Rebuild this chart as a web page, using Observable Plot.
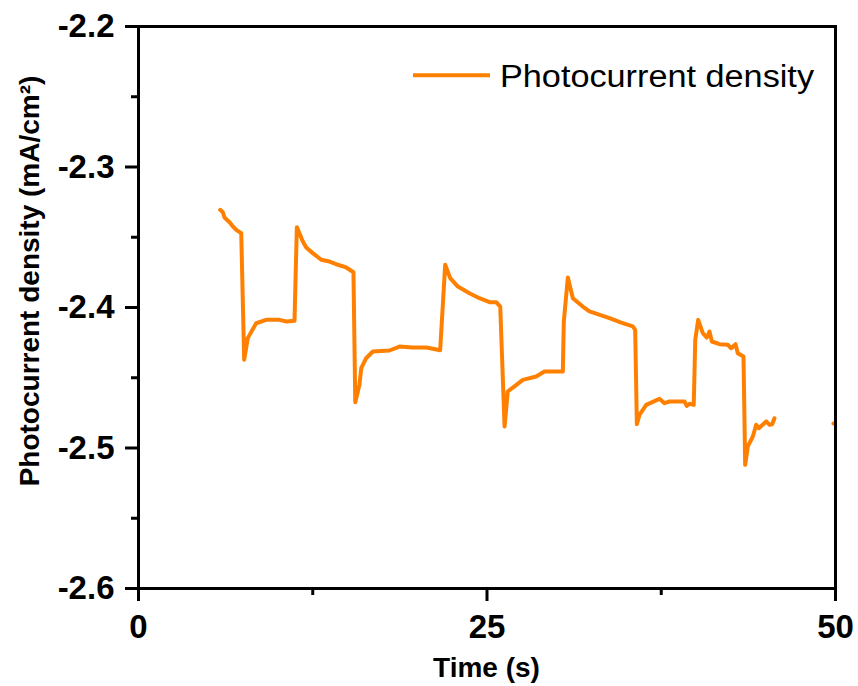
<!DOCTYPE html>
<html>
<head>
<meta charset="utf-8">
<script src="https://cdn.jsdelivr.net/npm/d3@7"></script>
<script src="https://cdn.jsdelivr.net/npm/@observablehq/plot@0.6"></script>
<style>
  html, body { margin: 0; padding: 0; background: #fff; }
  #chart svg { display: block; }
</style>
</head>
<body>
<div id="chart"></div>
<script>
const seriesName = "Photocurrent density";
const xLabel = "Time (s)";
const yLabel = "Photocurrent density (mA/cm²)";
const xMajorTicks = [0, 25, 50];
const xMinorTicks = [12.5, 37.5];
const yMajorTicks = [-2.6, -2.5, -2.4, -2.3, -2.2];
const yMinorTicks = [-2.55, -2.45, -2.35, -2.25];

const times = [5.86, 6.05, 6.17, 6.53, 6.77, 7.01, 7.37, 7.58, 7.84, 8.44, 9.16, 10.11, 10.62, 11.19,
  11.36, 11.79, 12.03, 12.50, 13.11, 13.70, 14.18, 14.90, 15.42,
  15.55, 15.85, 15.98, 16.33, 16.81, 18.01, 18.72, 19.66, 20.64, 21.11, 21.64,
  22.00, 22.36, 22.91, 23.74, 24.46, 25.18, 25.66, 25.95,
  26.26, 26.49, 26.97, 27.57, 28.53, 29.12, 30.44,
  30.51, 30.80, 31.16, 31.87, 32.35, 33.79, 34.63, 35.46, 35.63,
  35.75, 35.94, 36.42, 37.37, 37.73, 38.09, 39.17, 39.33, 39.53, 39.83,
  39.94, 40.15, 40.48, 40.77, 40.96, 41.13, 41.68, 42.27, 42.52, 42.83, 42.99, 43.40,
  43.52, 43.71, 44.07, 44.31, 44.50, 45.03, 45.27, 45.46, 45.62];
const values = [-2.3305, -2.3322, -2.3359, -2.3393, -2.3423, -2.3447, -2.3471, -2.4372, -2.4218, -2.4112, -2.4088, -2.4088, -2.4100, -2.4095,
  -2.3428, -2.3530, -2.3573, -2.3613, -2.3660, -2.3673, -2.3692, -2.3715, -2.3749,
  -2.4674, -2.4550, -2.4432, -2.4361, -2.4313, -2.4306, -2.4278, -2.4285, -2.4285, -2.4294, -2.4304,
  -2.3696, -2.3791, -2.3851, -2.3898, -2.3934, -2.3962, -2.3962, -2.3993,
  -2.4847, -2.4598, -2.4562, -2.4515, -2.4491, -2.4456, -2.4456,
  -2.4100, -2.3786, -2.3934, -2.3993, -2.4028, -2.4076, -2.4107, -2.4135, -2.4159,
  -2.4831, -2.4764, -2.4693, -2.4650, -2.4681, -2.4669, -2.4669, -2.4700, -2.4685, -2.4693,
  -2.4230, -2.4088, -2.4183, -2.4214, -2.4171, -2.4242, -2.4261, -2.4265, -2.4290, -2.4261, -2.4325, -2.4349,
  -2.5120, -2.4989, -2.4918, -2.4835, -2.4859, -2.4811, -2.4835, -2.4831, -2.4788];
// small clipped piece visible at the right edge
const edgeTimes = [49.85, 50.2];
const edgeValues = [-2.4825, -2.4825];

const lineColor = "#ff8000";
const data = times.map((t, i) => ({t, v: values[i]}));
const edge = edgeTimes.map((t, i) => ({t, v: edgeValues[i]}));

const W = 858, H = 686;
const mL = 138, mR = 23, mT = 26, mB = 98;

const plot = Plot.plot({
  width: W,
  height: H,
  marginLeft: mL,
  marginRight: mR,
  marginTop: mT,
  marginBottom: mB,
  style: {fontFamily: "'Liberation Sans', Arial, Helvetica, sans-serif", fontSize: "33px", fontWeight: "bold", color: "black", background: "white"},
  x: {domain: [0, 50]},
  y: {domain: [-2.6, -2.2]},
  marks: [
    Plot.line(data, {x: "t", y: "v", stroke: lineColor, strokeWidth: 4, strokeLinejoin: "round"}),
    Plot.line(edge, {x: "t", y: "v", stroke: lineColor, strokeWidth: 4, clip: true}),
    Plot.frame({stroke: "black", strokeWidth: 3}),
    Plot.axisX({ticks: xMajorTicks, tickSize: 13, tickPadding: 13, strokeWidth: 3, label: null, tickFormat: d => String(d), fontSize: 33, fontWeight: "bold"}),
    Plot.axisX({ticks: xMinorTicks, tickSize: 7, strokeWidth: 3, label: null, tickFormat: () => ""}),
    Plot.axisY({ticks: yMajorTicks, tickSize: 13, tickPadding: 11, strokeWidth: 3, label: null, tickFormat: d => d.toFixed(1), fontSize: 33, fontWeight: "bold"}),
    Plot.axisY({ticks: yMinorTicks, tickSize: 7, strokeWidth: 3, label: null, tickFormat: () => ""})
  ]
});

const svg = d3.select(plot);
// axis titles
svg.append("text")
  .attr("x", (mL + W - mR) / 2).attr("y", 677)
  .attr("text-anchor", "middle")
  .style("font-size", "28px").style("font-weight", "bold").attr("fill", "black")
  .text(xLabel);
svg.append("text")
  .attr("transform", "translate(38.5,281) rotate(-90)")
  .attr("text-anchor", "middle")
  .style("font-size", "28px").style("font-weight", "bold").attr("fill", "black")
  .text(yLabel);
// legend
svg.append("line")
  .attr("x1", 413).attr("x2", 490).attr("y1", 75.3).attr("y2", 75.3)
  .attr("stroke", lineColor).attr("stroke-width", 4);
svg.append("text")
  .attr("x", 500).attr("y", 87)
  .attr("text-anchor", "start")
  .attr("textLength", 314).attr("lengthAdjust", "spacingAndGlyphs")
  .style("font-size", "31px").style("font-weight", "normal").attr("fill", "black")
  .text(seriesName);

document.getElementById("chart").appendChild(plot);
</script>
</body>
</html>
